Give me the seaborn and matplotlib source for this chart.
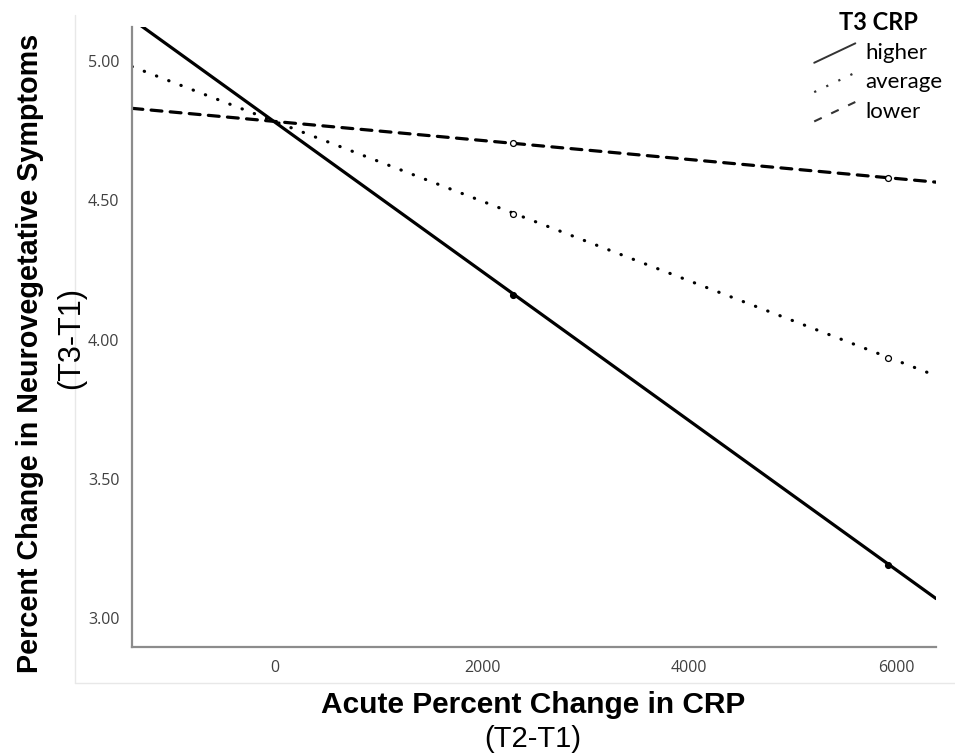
import pandas as pd
import matplotlib
matplotlib.use("Agg")
import matplotlib.pyplot as plt
import seaborn as sns
from matplotlib.lines import Line2D
from matplotlib.legend_handler import HandlerLine2D

# ======================
# DATA
# ======================
groups = ["higher", "average", "lower"]
x_ends = [-1382, 6386]
y_ends_higher = [5.15, 3.07]
y_ends_average = [4.98, 3.87]
y_ends_lower = [4.83, 4.565]

x_points = [2300, 5920]
y_points_higher = [4.16, 3.19]
y_points_average = [4.45, 3.935]
y_points_lower = [4.705, 4.58]

x_ticks = [0, 2000, 4000, 6000]
y_ticks = [3.00, 3.50, 4.00, 4.50, 5.00]

lines_df = pd.DataFrame({
    "x": x_ends * 3,
    "y": y_ends_higher + y_ends_average + y_ends_lower,
    "T3 CRP": [g for g in groups for _ in x_ends],
})
points_df = pd.DataFrame({
    "x": x_points * 3,
    "y": y_points_higher + y_points_average + y_points_lower,
    "T3 CRP": [g for g in groups for _ in x_points],
})

# ======================
# FIGURE
# ======================
sns.set_style("white")
fig = plt.figure(figsize=(9.55, 7.55), dpi=100)
ax = fig.add_axes([132 / 955, 1 - 647 / 755, (936 - 132) / 955, (647 - 27) / 755])

dash_map = {"higher": "", "average": (0.1, 4.0), "lower": (3.4, 2.6)}
sns.lineplot(data=lines_df, x="x", y="y", hue="T3 CRP", style="T3 CRP",
             palette=["black"] * 3, dashes=dash_map, linewidth=2.3,
             legend=False, ax=ax, zorder=2)
for ln in ax.get_lines():
    ln.set_dash_capstyle("round")

face = {"higher": "black", "average": "white", "lower": "white"}
for g in groups:
    sub = points_df[points_df["T3 CRP"] == g]
    sns.scatterplot(data=sub, x="x", y="y", s=18, color=face[g],
                    edgecolor="black", linewidth=0.9, ax=ax, zorder=3,
                    legend=False)

ax.set_xlim(x_ends[0], x_ends[1])
ax.set_ylim(2.896, 5.122)
ax.set_xticks(x_ticks)
ax.set_yticks(y_ticks)
ax.set_yticklabels([f"{v:.2f}" for v in y_ticks])
ax.set_xlabel("")
ax.set_ylabel("")
for side in ["top", "right"]:
    ax.spines[side].set_visible(False)
for side in ["left", "bottom"]:
    ax.spines[side].set_color("#8c8c8c")
    ax.spines[side].set_linewidth(1.6)
ax.tick_params(axis="both", length=0, labelsize=11.5, labelcolor="#404040",
               pad=9)
for lab in ax.get_xticklabels() + ax.get_yticklabels():
    lab.set_fontfamily("Open Sans")

# faint outer frame
fig.add_artist(Line2D([75 / 955, 75 / 955], [1 - 683 / 755, 1 - 15 / 755],
                      transform=fig.transFigure, color="#e8e8e8", lw=1))
fig.add_artist(Line2D([75 / 955, 1], [1 - 683 / 755, 1 - 683 / 755],
                      transform=fig.transFigure, color="#e8e8e8", lw=1))

# axis titles
fig.text(533 / 955, 1 - 705 / 755, "Acute Percent Change in CRP",
         ha="center", va="center", fontsize=21.5, fontweight="bold",
         family="Liberation Sans", color="black")
fig.text(533 / 955, 1 - 739 / 755, "(T2-T1)", ha="center", va="center",
         fontsize=21, family="Liberation Sans", color="black")
fig.text(30 / 955, 1 - 353 / 755, "Percent Change in Neurovegetative Symptoms",
         ha="center", va="center", rotation=90, fontsize=20.7,
         fontweight="bold", family="Liberation Sans", color="black")
fig.text(71 / 955, 1 - 338 / 755, "(T3-T1)", ha="center", va="center",
         rotation=90, fontsize=22, family="Liberation Sans", color="black")


# slanted legend keys
class SlantHandler(HandlerLine2D):
    def create_artists(self, legend, orig_handle, xdescent, ydescent,
                       width, height, fontsize, trans):
        line = Line2D([-xdescent, width - xdescent],
                      [-ydescent - 0.25 * height, -ydescent + 1.0 * height])
        self.update_prop(line, orig_handle, legend)
        line.set_transform(trans)
        return [line]


handles = [Line2D([], [], color="#333333", lw=1.4, linestyle="-"),
           Line2D([], [], color="#333333", lw=1.6, linestyle=(0, (1, 5))),
           Line2D([], [], color="#333333", lw=1.5, linestyle=(0, (4, 5)))]
leg = fig.legend(handles, groups, title="T3 CRP", loc="upper right",
                 bbox_to_anchor=(958 / 955, 1 + 5 / 755), frameon=False,
                 handler_map={Line2D: SlantHandler()},
                 prop={"family": "Lato", "size": 16},
                 handlelength=1.85, handletextpad=0.45, labelspacing=0.42,
                 borderpad=0.2)
leg.get_title().set_fontfamily("Lato")
leg.get_title().set_fontweight("bold")
leg.get_title().set_fontsize(17)
leg.get_title().set_color("black")
for t in leg.get_texts():
    t.set_color("black")

fig.savefig("out.png", dpi=100)
